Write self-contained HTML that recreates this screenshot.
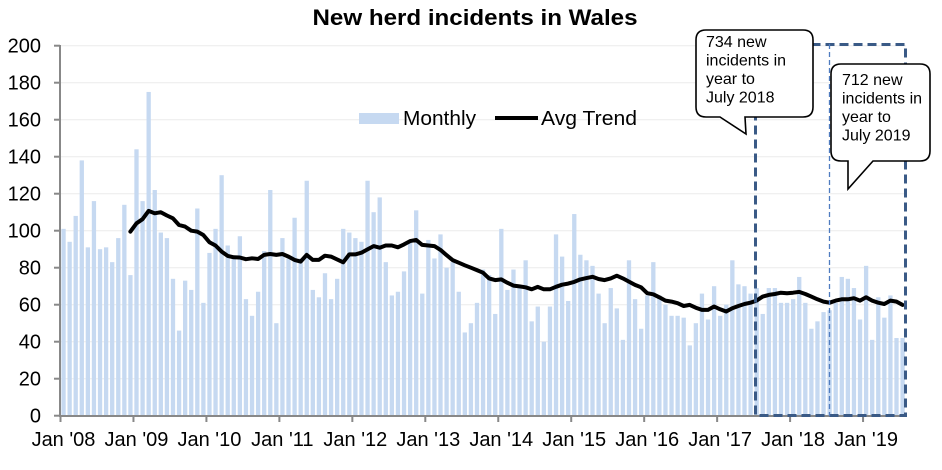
<!DOCTYPE html>
<html><head><meta charset="utf-8"><style>
html,body{margin:0;padding:0;background:#fff;}
svg{display:block;font-family:"Liberation Sans",Arial,sans-serif;}
</style></head><body>
<svg id="c" width="942" height="470" viewBox="0 0 942 470" xmlns="http://www.w3.org/2000/svg">
<text x="475" y="25" text-anchor="middle" font-size="22" font-weight="bold" textLength="325" lengthAdjust="spacingAndGlyphs">New herd incidents in Wales</text>
<g id="grid"></g>
<g id="bars"></g>
<g id="axes"></g>
<polyline id="trend" fill="none" stroke="#000" stroke-width="4" stroke-linejoin="round" stroke-linecap="round"/>
<rect x="359" y="113" width="40" height="11" fill="#c6d9f1"/>
<text x="403" y="125" font-size="20.5" textLength="73" lengthAdjust="spacingAndGlyphs">Monthly</text>
<line x1="495" y1="118" x2="538" y2="118" stroke="#000" stroke-width="4"/>
<text x="541" y="125" font-size="20.5" textLength="96" lengthAdjust="spacingAndGlyphs">Avg Trend</text>
<rect x="755.5" y="44.5" width="150" height="371" fill="none" stroke="#3a5a86" stroke-width="3" stroke-dasharray="9,5"/>
<line x1="829.5" y1="44" x2="829.5" y2="416" stroke="#4f7cc0" stroke-width="1.3" stroke-dasharray="5,3"/>
<path d="M706,30 H803 Q813,30 813,40 V107 Q813,117 803,117 H745 L746,134 L720,117 H706 Q696,117 696,107 V40 Q696,30 706,30 Z" fill="#fff" stroke="#000" stroke-width="1.6"/>
<text font-size="16"><tspan x="706" y="47">734 new</tspan><tspan x="706" y="65.5">incidents in</tspan><tspan x="706" y="84">year to</tspan><tspan x="706" y="102.5">July 2018</tspan></text>
<path d="M841,64 H920 Q930,64 930,74 V151 Q930,161 920,161 H873 L848,189 L848,161 H841 Q831,161 831,151 V74 Q831,64 841,64 Z" fill="#fff" stroke="#000" stroke-width="1.6"/>
<text font-size="16"><tspan x="842" y="85">712 new</tspan><tspan x="842" y="103.5">incidents in</tspan><tspan x="842" y="122">year to</tspan><tspan x="842" y="140.5">July 2019</tspan></text>
</svg>
<script>
var bars=[101,94,108,138,91,116,90,91,83,96,114,76,
144,116,175,122,99,96,74,46,73,68,112,61,
88,101,130,92,85,97,63,54,67,89,122,50,
96,85,107,85,127,68,64,77,63,74,101,99,
96,94,127,110,118,83,65,67,78,95,111,66,
95,85,98,80,83,67,45,50,61,79,76,55,
101,68,79,69,84,51,59,40,59,98,86,62,
109,87,84,81,66,50,69,58,41,84,63,47,
65,83,65,60,54,54,53,38,50,66,52,70,
54,60,84,71,70,66,69,55,69,69,61,61,
63,75,61,47,51,56,57,61,75,74,69,52,
81,41,64,53,65,42,42];
var tr={11:99.5,12:104,13:106.2,14:110.7,15:109.4,16:110,17:108.2,18:106.7,19:103.1,20:102.2,21:100,22:99.5,23:97.7,24:93.8,25:92,26:88.7,27:86.4,28:85.6,29:85.5,30:84.6,31:85.1,32:84.7,33:86.9,34:87.4,35:86.9,36:87.4,37:86,38:84.2,39:83.3,40:86.9,41:84.2,42:84.2,43:86.5,44:86,45:84.5,46:82.9,47:87.2,48:87.2,49:88.1,50:89.9,51:91.7,52:90.8,53:92,54:92,55:91,56:92.6,57:94.4,58:95,59:92.3,60:92,61:91.7,62:89.6,63:86.8,64:84.1,65:82.7,66:81.3,67:80,68:78.7,69:77.3,70:74.2,71:73.3,72:73.7,73:71.9,74:70.3,75:69.9,76:69.4,77:68.3,78:69.6,79:68.3,80:68.3,81:69.7,82:70.8,83:71.4,84:72.3,85:73.7,86:74.4,87:75.1,88:73.9,89:73.3,90:74.2,91:75.7,92:74.2,93:72.5,94:70.7,95:69.4,96:66.2,97:65.6,98:64,99:62.2,100:61.7,101:60.8,102:59.3,103:59.9,104:58.4,105:57.2,106:57.2,107:59,108:57.5,109:56.3,110:58.1,111:59.3,112:60.4,113:61.1,114:62.2,115:64.4,116:65.3,117:65.8,118:66.5,119:66.2,120:66.5,121:66.9,122:65.8,123:64.4,124:62.9,125:61.7,126:61.1,127:62.2,128:62.9,129:62.9,130:63.5,131:62.2,132:64,133:62.2,134:61.1,135:60.4,136:62.2,137:61.7,138:59.9};
var NS="http://www.w3.org/2000/svg";
function el(t,a,p){var e=document.createElementNS(NS,t);for(var k in a)e.setAttribute(k,a[k]);p.appendChild(e);return e;}
var X0=60.5,DX=6.08,Y0=415.7,SY=1.85;
var g=document.getElementById('grid'),b=document.getElementById('bars'),ax=document.getElementById('axes'),svg=document.getElementById('c');
for(var v=0;v<=200;v+=20){var y=Y0-v*SY;
 if(v>0)el('line',{x1:60,x2:906,y1:y,y2:y,stroke:'#ebebeb','stroke-width':1},g);
 el('line',{x1:54,x2:60,y1:y,y2:y,stroke:'#888','stroke-width':2},ax);
 var t=el('text',{x:41,y:y+7,'text-anchor':'end','font-size':20},svg);t.textContent=v;}
for(var i=0;i<bars.length;i++){var h=bars[i]*SY;el('rect',{x:X0+DX*i+0.9,y:Y0-h,width:4.3,height:h,fill:'#c6d9f1'},b);}
el('line',{x1:60,x2:60,y1:45,y2:417,stroke:'#888','stroke-width':2},ax);
el('line',{x1:59,x2:906,y1:416,y2:416,stroke:'#888','stroke-width':2},ax);
var yrs=["08","09","10","11","12","13","14","15","16","17","18","19"];
for(var k=0;k<12;k++){var x=X0+k*12*DX;el('line',{x1:x,x2:x,y1:416,y2:422,stroke:'#888','stroke-width':2},ax);
 var t=el('text',{x:x+3,y:446,'text-anchor':'middle','font-size':20},svg);t.textContent="Jan '"+yrs[k];}
var pts=[];for(var i=11;i<=138;i++){pts.push((X0+DX*i+3).toFixed(1)+","+(Y0-tr[i]*SY).toFixed(1));}
document.getElementById('trend').setAttribute('points',pts.join(' '));
</script>
</body></html>
